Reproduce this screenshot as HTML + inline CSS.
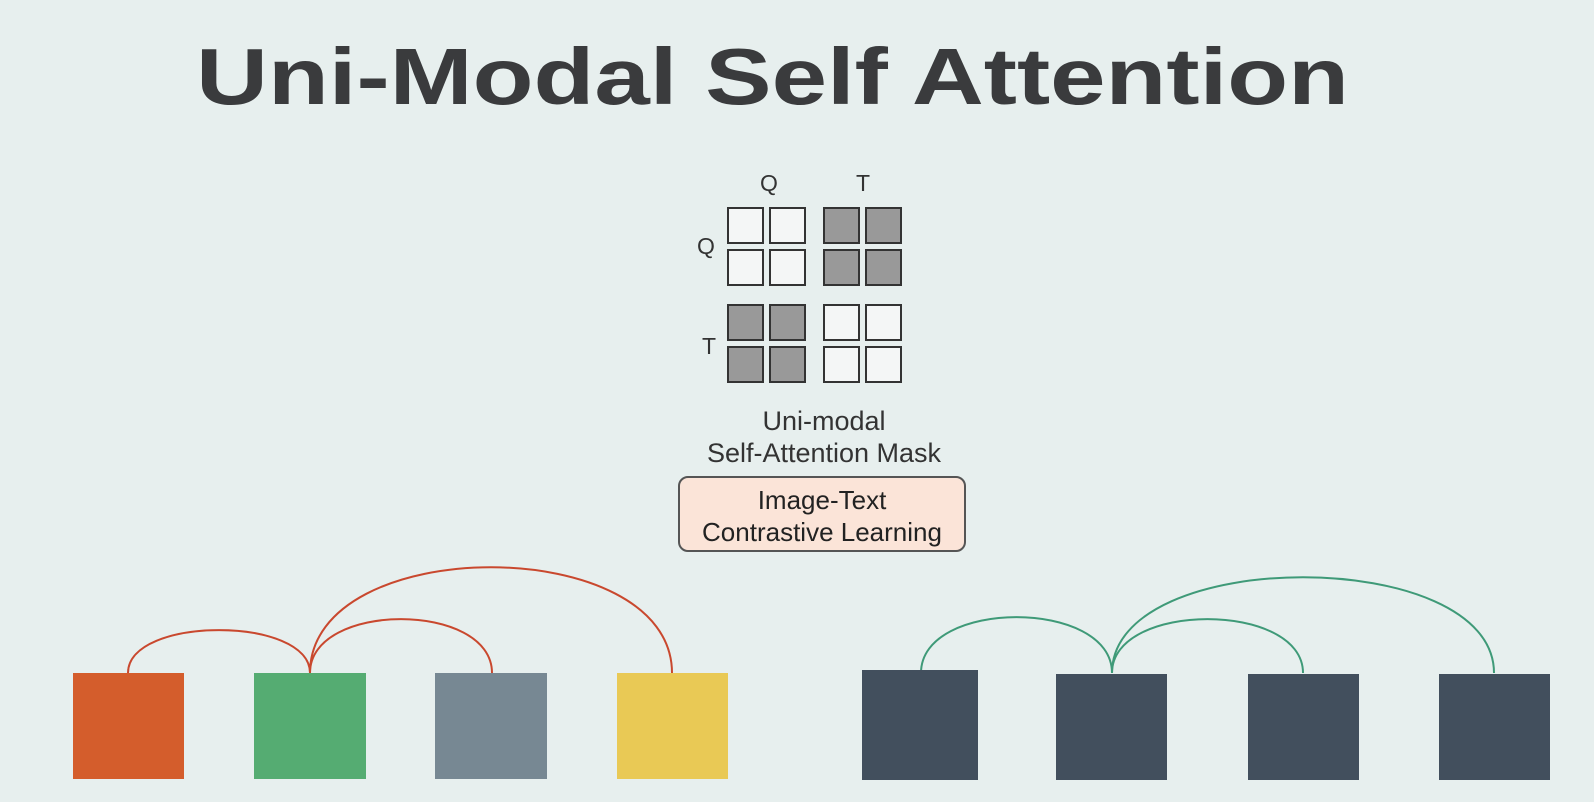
<!DOCTYPE html>
<html><head><meta charset="utf-8"><style>
html,body{margin:0;padding:0;background:#e7efee;}
svg{display:block}
text{font-family:"Liberation Sans",sans-serif;}
</style></head><body>
<svg width="1594" height="802" viewBox="0 0 1594 802">
<rect x="0" y="0" width="1594" height="802" fill="#e7efee"/>
<text x="196" y="104" font-size="80" font-weight="bold" fill="#3a3b3d" textLength="1153" lengthAdjust="spacingAndGlyphs">Uni-Modal Self Attention</text>
<g id="mask"></g>
<text x="769" y="191" font-size="23" fill="#333" text-anchor="middle">Q</text>
<text x="863" y="191" font-size="23" fill="#333" text-anchor="middle">T</text>
<text x="706" y="254" font-size="23" fill="#333" text-anchor="middle">Q</text>
<text x="709" y="354" font-size="23" fill="#333" text-anchor="middle">T</text>
<text x="824" y="430" font-size="27" fill="#333" text-anchor="middle">Uni-modal</text>
<text x="824" y="462" font-size="27" fill="#333" text-anchor="middle">Self-Attention Mask</text>
<rect x="679" y="477" width="286" height="74" rx="9" fill="#fbe4d8" stroke="#555" stroke-width="2"/>
<text x="822" y="509" font-size="26" fill="#222" text-anchor="middle">Image-Text</text>
<text x="822" y="541" font-size="26" fill="#222" text-anchor="middle">Contrastive Learning</text>
<g id="arcs"></g>
<g id="tokens"></g>
</svg>
<script>
const NS="http://www.w3.org/2000/svg";
const maskRows=[[0,0,1,1],[0,0,1,1],[1,1,0,0],[1,1,0,0]];
const colX=[728,770,824,866], rowY=[208,250,305,347];
const mg=document.getElementById('mask');
maskRows.forEach((r,i)=>r.forEach((v,j)=>{
 const c=document.createElementNS(NS,'rect');
 
 
 c.setAttribute('x',colX[j]);c.setAttribute('y',rowY[i]);c.setAttribute('width',35);c.setAttribute('height',35);
 c.setAttribute('fill',v?'#999':'#f4f6f6');c.setAttribute('stroke','#333');c.setAttribute('stroke-width',2);
 mg.appendChild(c);
}));
const tokens=[
 {x:73,y:673,w:111,h:106,c:'#d45d2c'},{x:254,y:673,w:112,h:106,c:'#55ac72'},
 {x:435,y:673,w:112,h:106,c:'#778893'},{x:617,y:673,w:111,h:106,c:'#e9c955'},
 {x:862,y:670,w:116,h:110,c:'#424f5d'},{x:1056,y:674,w:111,h:106,c:'#424f5d'},
 {x:1248,y:674,w:111,h:106,c:'#424f5d'},{x:1439,y:674,w:111,h:106,c:'#424f5d'}];
const tg=document.getElementById('tokens');
tokens.forEach(t=>{
 const r=document.createElementNS(NS,'rect');
 
 
 r.setAttribute('x',t.x);r.setAttribute('y',t.y);r.setAttribute('width',t.w);r.setAttribute('height',t.h);r.setAttribute('fill',t.c);
 tg.appendChild(r);
});
const arcs=[[128,310,630,'#c9482e'],[310,492,619,'#c9482e'],[310,672,567,'#c9482e'],
 [921,1112,617,'#3f9a78'],[1112,1303,619,'#3f9a78'],[1112,1494,577,'#3f9a78']];
const ag=document.getElementById('arcs');
arcs.forEach(a=>{
 const p=document.createElementNS(NS,'path');
 
 
 const y0=673, h=y0-a[2], k=1.33*h;
 p.setAttribute('d',`M${a[0]},${y0} C${a[0]},${y0-k} ${a[1]},${y0-k} ${a[1]},${y0}`);
 p.setAttribute('fill','none');p.setAttribute('stroke',a[3]);p.setAttribute('stroke-width',2);
 ag.appendChild(p);
});
</script>
</body></html>
